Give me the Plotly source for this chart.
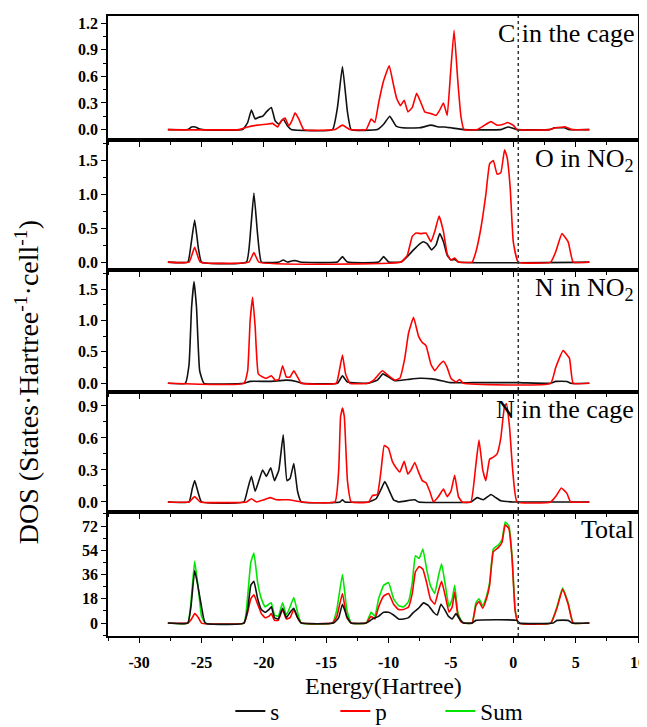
import plotly.graph_objects as go

# ---------------- data (energy in Hartree, DOS values) ----------------
PANEL_LABELS = ["C in the cage", "O in NO<sub>2</sub>", "N in NO<sub>2</sub>", "N in the cage", "Total"]
FERMI = 0.4

# Panel 1: C in the cage
C_S_E = [-27.7, -26.1, -25.8, -25.5, -25.2, -24.9, -21.7, -21.3, -21.0, -20.7, -20.4, -20.1, -19.8, -19.4,
         -19.1, -18.8, -18.45, -18.1, -17.8, -14.5, -14.1, -13.7, -13.3, -13.0, -10.9, -10.4, -9.9, -9.4,
         -8.9, -7.5, -6.6, -6.0, -5.5, -5.0, -4.0, -1.0, -0.4, 0.3, 2.9, 3.3, 4.1, 4.5, 6.1]
C_S = [0, 0, 0.03, 0.03, 0.01, 0, 0, 0.08, 0.22, 0.12, 0.14, 0.15, 0.2, 0.25,
       0.1, 0.06, 0.12, 0.04, 0, 0, 0.25, 0.71, 0.2, 0, 0, 0.06, 0.15, 0.04,
       0.02, 0.02, 0.05, 0.03, 0.03, 0.02, 0, 0, 0.03, 0, 0, 0.02, 0.02, 0, 0]
C_P_E = [-27.7, -22.0, -21.3, -20.5, -19.8, -19.3, -18.9, -18.6, -18.3, -18.0, -17.75, -17.5, -17.2, -16.8,
         -14.3, -13.7, -13.1, -11.8, -11.4, -11.1, -10.8, -10.4, -9.95, -9.6, -9.35, -9.05, -8.75, -8.45,
         -8.1, -7.75, -7.4, -7.1, -6.6, -6.2, -5.9, -5.6, -5.3, -5.05, -4.75, -4.45, -4.2, -3.95, -2.9,
         -2.4, -1.8, -1.3, -0.8, -0.45, 0.0, 0.3, 2.9, 3.4, 4.2, 4.7, 6.1]
C_P = [0, 0, 0.03, 0.05, 0.06, 0.07, 0.03, 0.1, 0.13, 0.04, 0.1, 0.19, 0.12, 0,
       0, 0.05, 0, 0, 0.12, 0.08, 0.3, 0.55, 0.72, 0.5, 0.35, 0.27, 0.33, 0.2,
       0.25, 0.41, 0.3, 0.2, 0.18, 0.16, 0.22, 0.3, 0.16, 0.6, 1.12, 0.55, 0.15, 0, 0,
       0.04, 0.09, 0.05, 0.06, 0.08, 0.05, 0, 0, 0.02, 0.03, 0, 0]

# Panel 2: O in NO2
O_S_E = [-27.7, -26.1, -25.85, -25.55, -25.25, -25.0, -21.4, -21.05, -20.8, -20.5, -20.2, -18.8, -18.45,
         -18.1, -17.7, -17.4, -17.1, -14.1, -13.7, -13.3, -10.8, -10.4, -10.0, -9.0, -8.5, -8.0, -7.5,
         -7.2, -6.9, -6.55, -6.2, -5.9, -5.6, -5.3, -5.0, -4.7, -4.4, 6.1]
O_S = [0, 0, 0.25, 0.62, 0.2, 0, 0, 0.5, 1.02, 0.4, 0, 0, 0.03,
       0, 0.02, 0.02, 0, 0, 0.08, 0, 0, 0.08, 0, 0, 0.08, 0.18, 0.27,
       0.3, 0.27, 0.18, 0.25, 0.42, 0.3, 0.1, 0.03, 0.04, 0, 0]
O_P_E = [-27.7, -26.0, -25.55, -25.1, -21.2, -20.8, -20.4, -9.0, -8.5, -8.1, -7.8, -7.4, -7.0, -6.6,
         -6.3, -5.95, -5.6, -5.3, -5.0, -4.7, -4.4, -3.3, -3.0, -2.6, -2.2, -1.9, -1.6, -1.3, -1.0,
         -0.7, -0.5, -0.25, 0.0, 0.4, 3.0, 3.4, 3.9, 4.4, 4.8, 6.1]
O_P = [0, 0, 0.22, 0, 0, 0.14, 0, 0, 0.1, 0.38, 0.43, 0.42, 0.43, 0.3,
       0.45, 0.68, 0.45, 0.12, 0.03, 0.06, 0, 0, 0.15, 0.5, 1.0, 1.45, 1.5, 1.3, 1.32,
       1.66, 1.55, 1.1, 0.3, 0, 0, 0.15, 0.42, 0.3, 0, 0]

# Panel 3: N in NO2
N2_S_E = [-27.7, -26.3, -26.0, -25.8, -25.6, -25.4, -25.15, -24.8, -21.6, -21.1, -19.5, -18.2, -17.4,
          -16.9, -14.1, -13.7, -13.3, -11.6, -10.9, -10.45, -10.0, -9.5, -8.5, -7.5, -6.5, -5.5, -5.0,
          -3.3, 0.4, 3.0, 3.4, 4.3, 4.6, 6.1]
N2_S = [0, 0, 0.3, 1.2, 1.62, 1.2, 0.2, 0, 0, 0.03, 0.03, 0.05, 0.03,
        0, 0, 0.12, 0.02, 0, 0.05, 0.15, 0.1, 0.04, 0.06, 0.08, 0.07, 0.03, 0.01,
        0.01, 0.01, 0, 0.03, 0.03, 0, 0]
N2_P_E = [-27.7, -21.6, -21.3, -21.1, -20.9, -20.7, -20.45, -20.1, -19.8, -19.4, -19.1, -18.8, -18.5,
          -18.2, -17.9, -17.6, -17.3, -17.0, -14.2, -13.95, -13.7, -13.45, -13.1, -11.7, -11.2, -10.5,
          -10.0, -9.5, -9.1, -8.7, -8.4, -8.0, -7.6, -7.3, -7.0, -6.6, -6.3, -5.9, -5.6, -5.3, -5.0,
          -4.6, -4.3, -4.0, 3.0, 3.4, 4.0, 4.5, 4.8, 6.1]
N2_P = [0, 0, 0.2, 1.0, 1.37, 0.9, 0.15, 0.1, 0.08, 0.12, 0.05, 0.06, 0.28,
        0.1, 0.1, 0.2, 0.1, 0, 0, 0.2, 0.45, 0.15, 0, 0, 0.05, 0.2,
        0.12, 0.05, 0.08, 0.4, 0.8, 1.05, 0.75, 0.65, 0.6, 0.3, 0.2, 0.3, 0.35, 0.25, 0.08,
        0.02, 0.06, 0, 0, 0.25, 0.52, 0.4, 0, 0]

# Panel 4: N in the cage
NC_S_E = [-27.7, -26.0, -25.75, -25.55, -25.3, -25.0, -21.6, -21.3, -21.0, -20.7, -20.4, -20.1, -19.8,
          -19.45, -19.15, -18.8, -18.45, -18.15, -17.9, -17.6, -17.3, -17.0, -13.9, -13.7, -13.5, -11.6,
          -11.0, -10.6, -10.3, -10.0, -9.6, -9.2, -7.9, -7.6, -3.4, -2.9, -2.4, -1.8, -1.4, -1.0, 0.0, 6.1]
NC_S = [0, 0, 0.12, 0.2, 0.1, 0, 0, 0.12, 0.24, 0.1, 0.2, 0.3, 0.24,
        0.32, 0.2, 0.3, 0.63, 0.2, 0.22, 0.36, 0.1, 0, 0, 0.02, 0, 0,
        0.03, 0.12, 0.19, 0.12, 0.02, 0, 0.02, 0, 0, 0.04, 0.02, 0.07, 0.04, 0.01, 0, 0]
NC_P_E = [-27.7, -26.0, -25.55, -25.1, -21.4, -21.0, -20.6, -20.0, -19.5, -19.0, -18.0, -17.0, -14.3,
          -14.0, -13.85, -13.7, -13.55, -13.3, -13.0, -11.6, -11.3, -10.9, -10.6, -10.35, -10.0, -9.7,
          -9.4, -9.1, -8.75, -8.45, -8.2, -7.9, -7.6, -7.3, -7.0, -6.7, -6.4, -6.0, -5.6, -5.3, -5.0,
          -4.7, -4.4, -4.1, -3.4, -3.0, -2.75, -2.45, -2.2, -1.9, -1.6, -1.3, -1.0, -0.7, -0.55, -0.3,
          -0.05, 0.3, 3.0, 3.4, 3.85, 4.3, 4.6, 6.1]
NC_P = [0, 0, 0.05, 0, 0, 0.03, 0, 0.02, 0.04, 0.02, 0.02, 0, 0,
        0.3, 0.8, 0.88, 0.8, 0.2, 0, 0, 0.06, 0.07, 0.3, 0.53, 0.5, 0.38,
        0.32, 0.28, 0.38, 0.26, 0.3, 0.37, 0.28, 0.2, 0.18, 0.1, 0.0, 0.05, 0.12, 0.05, 0.1,
        0.25, 0.05, 0, 0, 0.35, 0.58, 0.3, 0.2, 0.4, 0.42, 0.45, 0.6, 0.9, 0.92, 0.7,
        0.3, 0, 0, 0.05, 0.13, 0.08, 0, 0]

# Panel 5: Total
T_S_E = [-27.7, -26.1, -25.85, -25.55, -25.3, -25.0, -24.7, -21.6, -21.3, -21.05, -20.8, -20.5, -20.2,
         -19.9, -19.6, -19.4, -19.15, -18.85, -18.5, -18.2, -17.9, -17.6, -17.3, -17.0, -14.4, -14.0,
         -13.7, -13.35, -13.0, -11.8, -11.3, -10.8, -10.4, -10.0, -9.6, -9.2, -8.8, -8.4, -8.0, -7.6,
         -7.2, -6.8, -6.4, -6.1, -5.8, -5.5, -5.2, -4.9, -4.6, -4.3, -4.0, -3.3, -3.0, 0.3, 0.5, 3.2,
         3.5, 4.4, 4.7, 6.1]
T_S = [0, 0, 12, 39, 28, 12, 0, 0, 10, 28, 31, 18, 10,
       8, 10, 12, 4, 3, 11, 4, 8, 11, 4, 0, 0, 4,
       14, 5, 0, 0, 3, 5, 8, 8, 6, 3, 3, 4, 8, 11,
       15, 13, 8, 6, 14, 10, 5, 3, 7, 3, 0, 0, 2, 2, 0, 0,
       2, 2, 0, 0]
T_P_E = [-27.7, -26.1, -25.8, -25.55, -25.25, -25.0, -21.6, -21.3, -21.05, -20.8, -20.5, -20.2, -19.9,
         -19.6, -19.4, -19.15, -18.85, -18.5, -18.2, -17.9, -17.6, -17.3, -17.0, -14.5, -14.15, -13.7,
         -13.35, -13.0, -11.8, -11.4, -11.1, -10.8, -10.4, -10.0, -9.6, -9.2, -8.8, -8.4, -8.1, -7.85,
         -7.55, -7.25, -6.95, -6.65, -6.3, -6.0, -5.75, -5.45, -5.15, -4.9, -4.7, -4.45, -4.2, -3.95,
         -3.3, -3.0, -2.75, -2.45, -2.15, -1.9, -1.6, -1.2, -0.9, -0.65, -0.35, -0.1, 0.15, 0.4, 3.0,
         3.5, 3.95, 4.4, 4.8, 6.1]
T_P = [0, 0, 3, 7, 4, 0, 0, 8, 18, 21, 14, 7, 4,
       5, 7, 2, 2, 10, 3, 4, 10, 4, 0, 0, 5, 22,
       4, 0, 0, 5, 3, 12, 20, 22, 14, 10, 10, 12, 22, 38,
       42, 40, 30, 18, 14, 24, 31, 20, 8, 12, 23, 6, 1, 0,
       0, 13, 16, 11, 18, 28, 53, 56, 60, 73, 70, 48, 9, 0, 0,
       11, 25, 14, 0, 0]
T_SUM_E = [-27.7, -26.1, -25.85, -25.55, -25.25, -25.0, -24.7, -21.6, -21.3, -21.05, -20.8, -20.5, -20.2,
           -19.9, -19.6, -19.4, -19.15, -18.85, -18.5, -18.2, -17.9, -17.6, -17.3, -17.0, -14.5, -14.15,
           -13.7, -13.35, -13.0, -11.8, -11.4, -11.1, -10.8, -10.4, -10.0, -9.6, -9.2, -8.8, -8.4, -8.1,
           -7.85, -7.55, -7.25, -6.95, -6.65, -6.3, -6.0, -5.75, -5.45, -5.15, -4.9, -4.7, -4.45, -4.2,
           -3.95, -3.3, -3.0, -2.75, -2.45, -2.15, -1.9, -1.6, -1.2, -0.9, -0.65, -0.35, -0.1, 0.15, 0.4,
           3.0, 3.5, 3.95, 4.4, 4.8, 6.1]
T_SUM = [0, 0, 15, 46, 25, 5, 0, 0, 20, 45, 52, 30, 18,
         12, 14, 15, 6, 5, 15, 6, 12, 19, 8, 0, 0, 10,
         36, 10, 0, 0, 8, 5, 18, 28, 30, 18, 13, 12, 16, 30,
         50, 48, 55, 40, 28, 22, 35, 44, 28, 12, 18, 28, 8, 2,
         0, 0, 15, 18, 13, 20, 30, 55, 58, 62, 75, 72, 50, 10, 0,
         0, 12, 26, 15, 0, 0]

X_TICKS = [-30, -25, -20, -15, -10, -5, 0, 5, 10]
X_TICK_LABELS = ["-30", "-25", "-20", "-15", "-10", "-5", "0", "5", "10"]
Y_TICKS = [[0, 0.3, 0.6, 0.9, 1.2], [0, 0.5, 1.0, 1.5], [0, 0.5, 1.0, 1.5], [0, 0.3, 0.6, 0.9],
           [0, 18, 36, 54, 72]]
Y_TICK_LABELS = [["0.0", "0.3", "0.6", "0.9", "1.2"], ["0.0", "0.5", "1.0", "1.5"],
                 ["0.0", "0.5", "1.0", "1.5"], ["0.0", "0.3", "0.6", "0.9"],
                 ["0", "18", "36", "54", "72"]]

# ---------------- layout constants ----------------
Y_RANGES = [[-0.12, 1.28], [-0.12, 1.80], [-0.14, 1.80], [-0.095, 1.03], [-9.6, 82.4]]
Y_MINOR = [0.15, 0.25, 0.25, 0.15, 9]
DOMAINS = [[0.7996, 1.0], [0.590, 0.7996], [0.3934, 0.590], [0.1999, 0.3934], [0.0, 0.1999]]
BLACK = "#111111"
RED = "#ff0000"
GREEN = "#00e600"
SERIF = "Liberation Serif, Times New Roman, serif"

panels = [
    [(C_S_E, C_S, BLACK, "s"), (C_P_E, C_P, RED, "p")],
    [(O_S_E, O_S, BLACK, "s"), (O_P_E, O_P, RED, "p")],
    [(N2_S_E, N2_S, BLACK, "s"), (N2_P_E, N2_P, RED, "p")],
    [(NC_S_E, NC_S, BLACK, "s"), (NC_P_E, NC_P, RED, "p")],
    [(T_SUM_E, T_SUM, GREEN, "Sum"), (T_P_E, T_P, RED, "p"), (T_S_E, T_S, BLACK, "s")],
]

fig = go.Figure()
for i, series in enumerate(panels):
    xa = "x" if i == 0 else f"x{i + 1}"
    ya = "y" if i == 0 else f"y{i + 1}"
    for ex, vals, color, name in series:
        assert len(ex) == len(vals), (name, i, len(ex), len(vals))
        fig.add_trace(go.Scatter(
            x=ex, y=vals, mode="lines", name=name, xaxis=xa, yaxis=ya,
            line=dict(color=color, width=1.6, shape="spline", smoothing=0.35),
            showlegend=False,
        ))

# legend entries in order s, p, Sum
for name, color in [("s", BLACK), ("p", RED), ("Sum", GREEN)]:
    fig.add_trace(go.Scatter(x=[None], y=[None], mode="lines", name=name,
                             xaxis="x5", yaxis="y5", line=dict(color=color, width=2)))

layout = dict(
    width=647, height=727,
    margin=dict(l=100, r=17, t=8, b=99, autoexpand=False),
    paper_bgcolor="white", plot_bgcolor="white",
    showlegend=True,
    legend=dict(orientation="h", x=0.528, xanchor="center", y=-0.121, yanchor="middle",
                font=dict(family=SERIF, size=23, color="black"), entrywidth=60,
                traceorder="normal", bgcolor="rgba(0,0,0,0)"),
    annotations=[], shapes=[],
)

for i in range(5):
    xk = "xaxis" if i == 0 else f"xaxis{i + 1}"
    yk = "yaxis" if i == 0 else f"yaxis{i + 1}"
    ya = "y" if i == 0 else f"y{i + 1}"
    xa = "x" if i == 0 else f"x{i + 1}"
    layout[xk] = dict(
        domain=[0, 1], anchor=ya, range=[-32.5, 10], showgrid=False, zeroline=False,
        showline=True, linecolor="black", linewidth=1.5, mirror=True,
        ticks="outside", ticklen=5, tickwidth=1.2, tickcolor="black",
        tickvals=X_TICKS, ticktext=X_TICK_LABELS,
        showticklabels=(i == 4), ticklabelstandoff=6,
        tickfont=dict(family=SERIF, size=16, color="black", weight="bold"),
        minor=dict(dtick=2.5, tick0=0, ticks="outside", ticklen=3, tickcolor="black"),
    )
    if i < 4:
        layout[xk]["matches"] = "x5"
    layout[yk] = dict(
        domain=DOMAINS[i], anchor=xa, range=Y_RANGES[i], showgrid=False, zeroline=False,
        showline=True, linecolor="black", linewidth=1.5, mirror=True,
        ticks="outside", ticklen=5, tickwidth=1.2, tickcolor="black",
        tickvals=Y_TICKS[i], ticktext=Y_TICK_LABELS[i],
        tickfont=dict(family=SERIF, size=16, color="black", weight="bold"),
        minor=dict(dtick=Y_MINOR[i], tick0=0, ticks="outside", ticklen=3, tickcolor="black"),
    )
    layout["annotations"].append(dict(
        text=PANEL_LABELS[i], xref="paper", yref=f"{ya} domain", x=1, y=0.99,
        xanchor="right", yanchor="top", xshift=-2, showarrow=False,
        font=dict(family=SERIF, size=26, color="black"),
    ))

layout["shapes"].append(dict(type="line", xref="x5", yref="paper", x0=FERMI, x1=FERMI, y0=0, y1=1,
                             line=dict(color="#333333", width=1.5, dash="dot")))

layout["annotations"].append(dict(
    text="Energy(Hartree)", xref="paper", yref="paper", x=0.52, y=-0.080,
    xanchor="center", yanchor="middle", showarrow=False,
    font=dict(family=SERIF, size=24, color="black"),
))
layout["annotations"].append(dict(
    text="DOS (States·Hartree<sup>-1</sup>·cell<sup>-1</sup>)", xref="paper", yref="paper",
    x=-0.152, y=0.41, xanchor="center", yanchor="middle", textangle=-90, showarrow=False,
    font=dict(family=SERIF, size=28, color="black"),
))

fig.update_layout(**layout)
fig.write_html("out.html")
